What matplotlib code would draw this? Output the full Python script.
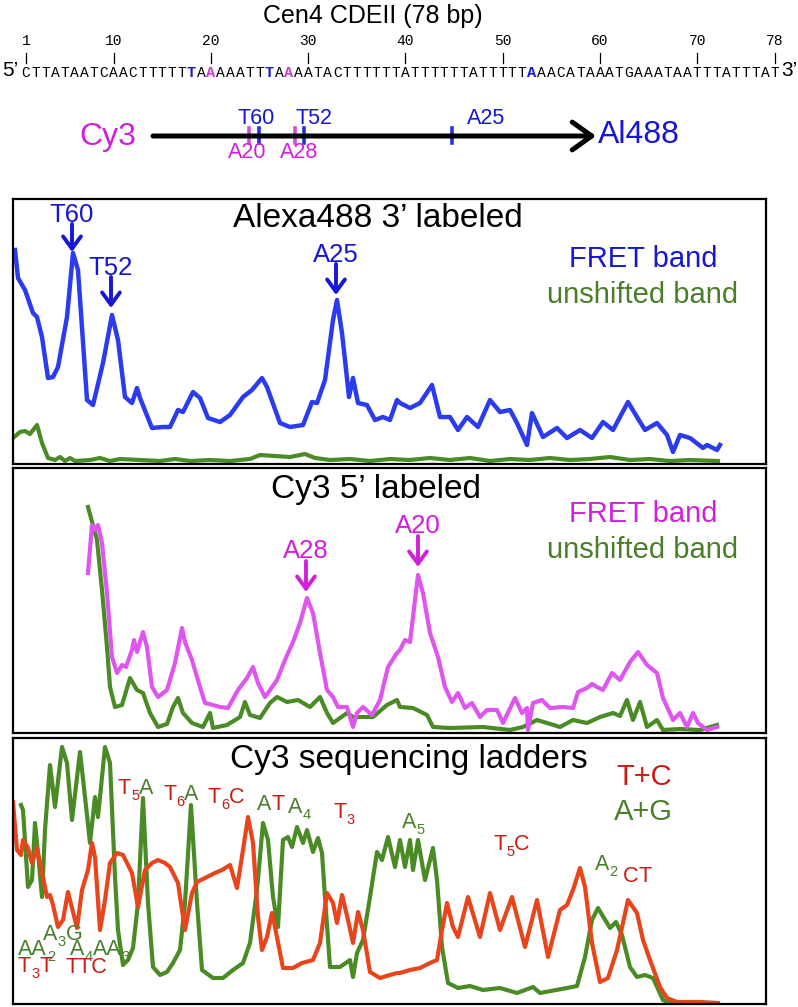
import matplotlib
matplotlib.use("Agg")
import matplotlib.pyplot as plt

plt.rcParams['font.family'] = ['Liberation Sans', 'DejaVu Sans']

W, H = 798, 1007

# ---------------- data ----------------
seq_title = "Cen4 CDEII (78 bp)"
sequence = ("CTTATAATCAAC" "TTTTTT" "AA" "AAATTT" "AA" "AATACTTTTTT"
            "ATTTTTTATTTTT" "A" "AACATAAATGAAATAATTTATTTAT")
ruler_ticks = [1, 10, 20, 30, 40, 50, 60, 70, 78]
blue_sites = [18, 26, 53]       # T60, T52, A25 (numbered from Alexa488 end)
magenta_sites = [20, 28]        # A20, A28 (numbered from Cy3 end)

# schematic of the duplex
diagram_blue_labels = ["T60", "T52", "A25"]
diagram_magenta_labels = ["A20", "A28"]

# Panel 1: Alexa488 3' labeled (mobility, intensity)
a488_fret_x = [15, 18, 25, 33, 37, 42, 48, 53, 58, 67, 73, 78, 87, 93, 103, 112, 118, 125, 132, 137,
               140, 152, 163, 170, 178, 183, 193, 200, 208, 220, 230, 243, 252, 262, 267, 280, 290, 303,
               312, 317, 325, 333, 337, 342, 345, 349, 353, 358, 367, 375, 383, 390, 397, 400, 410, 420,
               432, 440, 450, 458, 467, 478, 490, 500, 510, 517, 527, 532, 543, 557, 567, 580, 592, 603,
               613, 628, 637, 645, 657, 667, 673, 680, 690, 703, 707, 717, 720]
a488_fret_y = [214, 186, 174, 151, 147, 127, 86, 87, 97, 147, 211, 194, 64, 59, 101, 149, 124, 67, 61, 76,
               66, 36, 37, 37, 54, 52, 72, 66, 46, 42, 49, 67, 74, 86, 77, 41, 37, 39,
               62, 61, 84, 144, 164, 131, 104, 67, 86, 61, 59, 44, 47, 44, 64, 61, 56, 61,
               79, 47, 47, 34, 47, 37, 64, 52, 54, 41, 19, 51, 27, 36, 26, 34, 26, 42,
               34, 62, 47, 34, 41, 29, 12, 29, 26, 16, 19, 14, 19]
a488_unsh_x = [13, 20, 25, 30, 37, 42, 48, 55, 60, 65, 70, 75, 90, 100, 110, 120, 140, 160, 175, 190,
               210, 230, 250, 260, 275, 290, 305, 315, 330, 350, 370, 390, 410, 430, 450, 470, 490,
               510, 530, 550, 570, 590, 610, 630, 650, 670, 690, 718]
a488_unsh_y = [26, 32, 33, 30, 39, 21, 6, 4, 7, 3, 6, 3, 4, 6, 3, 5, 4, 3, 5, 3,
               4, 3, 5, 9, 8, 7, 10, 6, 4, 5, 3, 5, 4, 6, 4, 6, 3,
               5, 4, 6, 4, 5, 7, 4, 5, 3, 4, 3]

# Panel 2: Cy3 5' labeled
cy3_fret_x = [88, 92, 95, 98, 102, 107, 112, 117, 122, 126, 132, 134, 137, 143, 147, 152, 158, 167, 175,
              182, 185, 192, 200, 205, 213, 220, 228, 238, 247, 253, 258, 265, 270, 277, 285, 293, 300,
              307, 313, 320, 327, 333, 338, 347, 353, 357, 363, 372, 380, 388, 397, 400, 405, 410, 418,
              423, 430, 438, 445, 452, 458, 465, 472, 480, 487, 497, 503, 515, 522, 527, 528, 533, 542,
              550, 563, 573, 578, 587, 592, 597, 603, 612, 620, 630, 638, 647, 657, 663, 673, 680, 687,
              693, 698, 707, 717]
cy3_fret_y = [160, 208, 203, 208, 190, 140, 76, 60, 68, 66, 83, 93, 81, 101, 86, 46, 36, 43, 70,
              105, 91, 73, 46, 30, 28, 26, 25, 43, 55, 66, 50, 36, 43, 53, 73, 91, 110,
              135, 120, 80, 43, 36, 26, 26, 6, 20, 26, 18, 33, 66, 80, 83, 93, 91, 158,
              140, 100, 76, 46, 31, 40, 25, 30, 16, 23, 23, 10, 35, 20, 25, 3, 30, 33,
              25, 26, 25, 41, 45, 49, 46, 43, 60, 53, 71, 81, 68, 60, 35, 13, 20, 6,
              20, 10, 3, 6]
cy3_unsh_x = [88, 97, 102, 107, 110, 115, 122, 130, 137, 143, 150, 158, 167, 173, 178, 183, 192, 203,
              210, 213, 227, 240, 245, 250, 260, 270, 277, 287, 298, 310, 320, 327, 333, 347, 353, 373,
              387, 397, 400, 413, 427, 433, 450, 483, 510, 523, 537, 547, 560, 573, 587, 600, 613, 620,
              627, 633, 640, 647, 657, 663, 680, 700, 717]
cy3_unsh_y = [226, 193, 143, 86, 46, 26, 28, 55, 43, 40, 20, 6, 9, 26, 35, 20, 10, 6,
              20, 5, 8, 16, 31, 18, 15, 30, 36, 31, 33, 26, 36, 20, 10, 20, 16, 16,
              28, 33, 26, 25, 18, 6, 5, 6, 3, 6, 13, 10, 6, 13, 10, 16, 20, 17,
              33, 13, 31, 6, 13, 3, 4, 3, 8]

# Panel 3: Cy3 sequencing ladders
tc_x = [13, 17, 21, 23, 28, 32, 37, 42, 47, 50, 53, 58, 63, 68, 73, 77, 82, 88, 92, 95, 100, 105,
        110, 117, 123, 132, 138, 145, 152, 158, 165, 170, 178, 185, 192, 197, 207, 215, 222, 230,
        237, 243, 248, 253, 258, 262, 267, 272, 275, 283, 293, 302, 313, 320, 327, 333, 337, 342,
        348, 353, 358, 363, 370, 380, 390, 397, 400, 410, 420, 430, 437, 442, 447, 453, 458, 468,
        480, 490, 500, 512, 525, 537, 548, 560, 567, 573, 580, 585, 592, 600, 608, 617, 628, 637,
        643, 650, 660, 667, 677, 700, 718]
tc_y = [202, 154, 149, 164, 156, 141, 156, 131, 107, 109, 99, 77, 84, 112, 92, 76, 114, 134, 161, 147,
        74, 104, 141, 151, 149, 131, 97, 134, 141, 144, 141, 137, 121, 74, 111, 122, 127, 131, 134,
        139, 116, 154, 187, 161, 87, 54, 67, 91, 77, 36, 36, 41, 44, 61, 111, 101, 81, 109,
        84, 61, 92, 74, 32, 26, 29, 31, 31, 34, 36, 41, 44, 74, 101, 77, 67, 107,
        67, 111, 74, 107, 57, 104, 47, 94, 99, 114, 136, 117, 61, 22, 26, 54, 104, 91,
        64, 44, 17, 6, 2, 2, 1]
ag_x = [21, 23, 28, 32, 35, 38, 42, 45, 50, 55, 62, 67, 72, 80, 85, 90, 95, 98, 105, 110, 115, 118,
        123, 128, 133, 138, 143, 148, 153, 160, 167, 173, 180, 185, 191, 197, 202, 213, 223, 233,
        243, 250, 257, 263, 268, 273, 278, 283, 288, 292, 297, 303, 307, 313, 318, 322, 325, 330,
        340, 350, 353, 357, 363, 370, 377, 382, 388, 395, 400, 405, 410, 413, 418, 425, 433, 437,
        442, 448, 458, 470, 483, 500, 517, 533, 540, 567, 577, 585, 592, 598, 610, 616, 622, 630,
        637, 645, 653, 663, 673, 690]
ag_y = [199, 194, 117, 124, 181, 151, 107, 174, 239, 197, 257, 241, 184, 252, 207, 161, 207, 187, 257,
        241, 127, 74, 39, 44, 56, 101, 206, 101, 37, 29, 32, 41, 54, 101, 199, 101, 34, 26, 26, 34,
        41, 61, 114, 181, 164, 107, 77, 164, 167, 157, 177, 161, 174, 152, 166, 151, 107, 37,
        37, 44, 27, 51, 64, 107, 152, 144, 167, 137, 164, 137, 164, 134, 164, 124, 156, 124,
        57, 21, 16, 18, 14, 16, 11, 17, 11, 16, 18, 47, 84, 96, 76, 82, 69, 37,
        27, 29, 26, 4, 0, 0]

# ---------------- colours ----------------
BLUE_LINE, BLUE_TXT = "#2b3cf0", "#1616d4"
GREEN_LINE, GREEN_TXT = "#4b8b26", "#4a7f2a"
MAG_LINE, MAG_TXT = "#df55f0", "#d21fdc"
RED_LINE, RED_TXT = "#e8451c", "#cc1a14"

fig = plt.figure(figsize=(W / 100, H / 100), dpi=100)


def px_axes(x0, y0, x1, y1):
    return fig.add_axes([x0 / W, 1 - y1 / H, (x1 - x0) / W, (y1 - y0) / H])


# ---------------- sequence ruler ----------------
pitch = (775 - 26) / 77.0
sax = px_axes(0, 25, W, 90)
sax.set_xlim(1 - 26 / pitch, 78 + (W - 775) / pitch)
sax.set_ylim(90, 25)
sax.axis('off')
for t in ruler_ticks:
    sax.text(t, 41, str(t), family='Liberation Mono', fontsize=10.5, ha='center', va='center')
    sax.plot([t, t], [53, 63], color='black', lw=0.9)
for i, ch in enumerate(sequence, start=1):
    if i in blue_sites:
        sax.text(i, 77, ch, family='Liberation Mono', fontsize=11, fontweight='bold',
                 color='#1a1ad0', ha='center', va='baseline')
    elif i in magenta_sites:
        sax.text(i, 77, ch, family='Liberation Mono', fontsize=11, fontweight='bold',
                 color='#d63ad6', ha='center', va='baseline')
    else:
        sax.text(i, 77, ch, family='Liberation Mono', fontsize=10.5, ha='center', va='baseline')

# ---------------- panels ----------------
panels = [(199, 464), (468, 733), (738, 1004)]
axs = []
for (top, bot) in panels:
    ax = px_axes(13, top, 766, bot)
    ax.set_xlim(13, 766)
    ax.set_ylim(0, bot - top)
    ax.set_xticks([])
    ax.set_yticks([])
    for sp in ax.spines.values():
        sp.set_linewidth(1.6)
        sp.set_color('black')
    axs.append(ax)

ax1, ax2, ax3 = axs
ax1.plot(a488_unsh_x, a488_unsh_y, color=GREEN_LINE, lw=3, solid_joinstyle='round')
ax1.plot(a488_fret_x, a488_fret_y, color=BLUE_LINE, lw=3.2, solid_joinstyle='round')
ax2.plot(cy3_unsh_x, cy3_unsh_y, color=GREEN_LINE, lw=3, solid_joinstyle='round')
ax2.plot(cy3_fret_x, cy3_fret_y, color=MAG_LINE, lw=3, solid_joinstyle='round')
ax3.plot(ag_x, ag_y, color=GREEN_LINE, lw=3, solid_joinstyle='round')
ax3.plot(tc_x, tc_y, color=RED_LINE, lw=3, solid_joinstyle='round')

# ---------------- overlay (text & schematic) ----------------
ov = fig.add_axes([0, 0, 1, 1])
ov.set_xlim(0, W)
ov.set_ylim(H, 0)
ov.axis('off')
ov.patch.set_visible(False)

ov.text(373, 16, seq_title, fontsize=18, ha='center', va='center')
ov.text(2, 71, "5\u2019", fontsize=15, ha='left', va='center')
ov.text(781, 71, "3\u2019", fontsize=15, ha='left', va='center')

# schematic
ov.text(108, 137, "Cy3", fontsize=23, color=MAG_TXT, ha='center', va='center')
ov.text(598, 135, "Al488", fontsize=23, color=BLUE_TXT, ha='left', va='center')
ov.annotate('', xy=(596, 136), xytext=(153, 136),
            arrowprops=dict(arrowstyle='->,head_length=0.7,head_width=0.5', lw=3.6,
                            color='black', shrinkA=0, shrinkB=0, mutation_scale=20))
for xp in [259, 304, 452]:
    ov.plot([xp, xp], [128, 143], color='#2233dd', lw=2.6)
for xp in [249, 295]:
    ov.plot([xp, xp], [128, 143], color='#d04de0', lw=2.6)
for lab, xp in zip(diagram_blue_labels, [256, 314, 486]):
    ov.text(xp, 118, lab, fontsize=15.5, color=BLUE_TXT, ha='center', va='center')
for lab, xp in zip(diagram_magenta_labels, [247, 299]):
    ov.text(xp, 153, lab, fontsize=15.5, color=MAG_TXT, ha='center', va='center')

# panel titles and legends
ov.text(378, 227, "Alexa488 3\u2019 labeled", fontsize=24, ha='center', va='baseline')
ov.text(643, 267, "FRET band", fontsize=21, color=BLUE_TXT, ha='center', va='baseline')
ov.text(643, 303, "unshifted band", fontsize=21, color=GREEN_TXT, ha='center', va='baseline')

ov.text(376, 498, "Cy3 5\u2019 labeled", fontsize=24, ha='center', va='baseline')
ov.text(643, 522, "FRET band", fontsize=21, color=MAG_TXT, ha='center', va='baseline')
ov.text(643, 558, "unshifted band", fontsize=21, color=GREEN_TXT, ha='center', va='baseline')

ov.text(409, 768, "Cy3 sequencing ladders", fontsize=24, ha='center', va='baseline')
ov.text(644, 785, "T+C", fontsize=21, color=RED_TXT, ha='center', va='baseline')
ov.text(643, 820, "A+G", fontsize=21, color=GREEN_TXT, ha='center', va='baseline')


def peak_label(x, ybase, tail, tip, text, color):
    ov.text(x, ybase, text, fontsize=18.5, color=color, ha='center', va='baseline')
    ov.annotate('', xy=(x, tip), xytext=(x, tail),
                arrowprops=dict(arrowstyle='->,head_length=0.55,head_width=0.4', lw=2.8,
                                color=color, shrinkA=0, shrinkB=0, mutation_scale=16))


peak_label(72, 222, 224, 252, "T60", BLUE_TXT)
peak_label(111, 275, 277, 308, "T52", BLUE_TXT)
peak_label(336, 262, 264, 295, "A25", BLUE_TXT)
peak_label(306, 558, 561, 592, "A28", MAG_TXT)
peak_label(418, 533, 536, 567, "A20", MAG_TXT)

renderer = fig.canvas.get_renderer()


def rich(x, y, pieces, size=15.5):
    cx = x
    for s, col, sub in pieces:
        fs = size * 0.68 if sub else size
        yy = y + (size * 100 / 72 * 0.28 if sub else 0)
        t = ov.text(cx, yy, s, color=col, fontsize=fs, ha='left', va='baseline')
        cx += t.get_window_extent(renderer).width


R, G = RED_TXT, GREEN_TXT
ladder_labels = [
    (118, 794, [("T", R, 0), ("5", R, 1), ("A", G, 0)]),
    (163, 800, [("T", R, 0), ("6", R, 1), ("A", G, 0)]),
    (208, 803, [("T", R, 0), ("6", R, 1), ("C", R, 0)]),
    (257, 810, [("A", G, 0), ("T", R, 0)]),
    (288, 813, [("A", G, 0), ("4", G, 1)]),
    (333, 818, [("T", R, 0), ("3", R, 1)]),
    (402, 828, [("A", G, 0), ("5", G, 1)]),
    (493, 850, [("T", R, 0), ("5", R, 1), ("C", R, 0)]),
    (595, 870, [("A", G, 0), ("2", G, 1)]),
    (623, 882, [("C", R, 0), ("T", R, 0)]),
    (18, 955, [("AA", G, 0), ("2", G, 1)]),
    (43, 940, [("A", G, 0), ("3", G, 1), ("G", G, 0)]),
    (70, 955, [("A", G, 0), ("4", G, 1), ("AA", G, 0), ("3", G, 1)]),
    (18, 972, [("T", R, 0), ("3", R, 1), ("T", R, 0)]),
    (65, 973, [("TTC", R, 0)]),
]
for x, y, pieces in ladder_labels:
    rich(x, y, pieces)

fig.savefig("out.png", dpi=100)
